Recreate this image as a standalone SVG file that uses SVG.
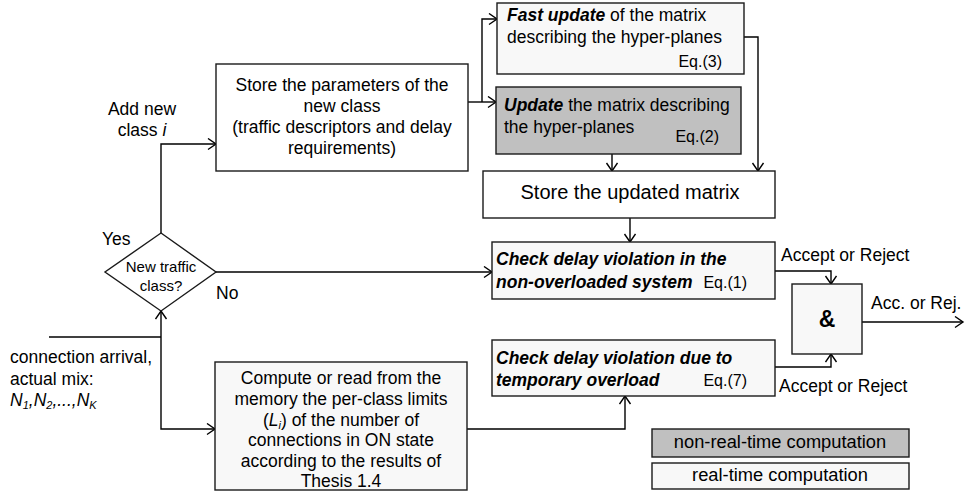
<svg xmlns="http://www.w3.org/2000/svg" width="965" height="504" viewBox="0 0 965 504">
<style>
text { font-family: "Liberation Sans", Arial, sans-serif; font-size: 17.5px; fill: #000; }
.c { text-anchor: middle; }
.e { text-anchor: end; font-size: 16px; }
.bi { font-weight: bold; font-style: italic; }
.it { font-style: italic; }
.box { stroke: #1a1a1a; stroke-width: 1.4; }
.w { fill: #ffffff; }
.l { fill: #f8f8f8; }
.g { fill: #c0c0c0; }
.con { fill: none; stroke: #000; stroke-width: 1.4; }
.lg { font-size: 18.3px; }
</style>
<defs>
<marker id="arr" markerUnits="userSpaceOnUse" markerWidth="12" markerHeight="14" refX="9" refY="6" orient="auto">
<path d="M1,0.5 L9,6 L1,11.5" fill="none" stroke="#000" stroke-width="1.4"/>
</marker>
</defs>
<rect width="965" height="504" fill="#ffffff"/>

<g id="connectors">
<polyline class="con" points="468,102 482,102 496,102" marker-end="url(#arr)"/>
<polyline class="con" points="482,102 482,19 497,19" marker-end="url(#arr)"/>
<polyline class="con" points="612,154 612,171" marker-end="url(#arr)"/>
<polyline class="con" points="744,37 758,37 758,171" marker-end="url(#arr)"/>
<polyline class="con" points="630,218 630,242" marker-end="url(#arr)"/>
<polyline class="con" points="216,272 492,272" marker-end="url(#arr)"/>
<polyline class="con" points="161,233 161,144 216,144" marker-end="url(#arr)"/>
<polyline class="con" points="49,337 161,337"/>
<polyline class="con" points="161,337 161,311" marker-end="url(#arr)"/>
<polyline class="con" points="161,337 161,429 215,429" marker-end="url(#arr)"/>
<polyline class="con" points="467,429 625,429 625,396" marker-end="url(#arr)"/>
<polyline class="con" points="775,271 831,271 831,284" marker-end="url(#arr)"/>
<polyline class="con" points="775,367 831,367 831,354" marker-end="url(#arr)"/>
<polyline class="con" points="862,322 963,322" marker-end="url(#arr)"/>
</g>

<g id="store-params">
<rect class="box w" x="216" y="64" width="252" height="107"/>
<text class="c" x="342" y="91">Store the parameters of the</text>
<text class="c" x="342" y="112">new class</text>
<text class="c" x="342" y="133">(traffic descriptors and delay</text>
<text class="c" x="342" y="154">requirements)</text>
</g>

<g id="fast-update">
<rect class="box l" x="497" y="3" width="247" height="71"/>
<text x="507" y="21"><tspan class="bi">Fast update</tspan> of the matrix</text>
<text x="507" y="43">describing the hyper-planes</text>
<text class="e" x="722" y="67">Eq.(3)</text>
</g>

<g id="update">
<rect class="box g" x="496" y="87" width="245" height="67"/>
<text x="504" y="111"><tspan class="bi">Update</tspan> the matrix describing</text>
<text x="504" y="133">the hyper-planes</text>
<text class="e" x="719" y="142">Eq.(2)</text>
</g>

<g id="store-matrix">
<rect class="box w" x="483" y="171" width="292" height="47"/>
<text class="c" x="630" y="199" style="font-size:20px">Store the updated matrix</text>
</g>

<g id="check1">
<rect class="box l" x="492" y="242" width="283" height="57"/>
<text class="bi" x="496" y="265">Check delay violation in the</text>
<text x="496" y="288"><tspan class="bi">non-overloaded system</tspan></text>
<text class="e" x="747" y="288">Eq.(1)</text>
</g>

<g id="check2">
<rect class="box l" x="492" y="340" width="283" height="56"/>
<text class="bi" x="496" y="364">Check delay violation due to</text>
<text class="bi" x="496" y="386">temporary overload</text>
<text class="e" x="747" y="386">Eq.(7)</text>
</g>

<g id="and-gate">
<rect class="box l" x="792" y="284" width="70" height="70"/>
<text class="c" x="827" y="327" style="font-size:23px;font-weight:bold">&amp;</text>
</g>

<g id="decision">
<polygon class="box w" points="161,233 216,272 161,311 105,272"/>
<text class="c" x="161" y="272" style="font-size:15px">New traffic</text>
<text class="c" x="161" y="291" style="font-size:15px">class?</text>
</g>

<g id="compute">
<rect class="box l" x="215" y="362" width="252" height="128"/>
<text class="c" x="341" y="384">Compute or read from the</text>
<text class="c" x="341" y="405">memory the per-class limits</text>
<text class="c" x="341" y="426">(<tspan class="it">L</tspan><tspan class="it" style="font-size:11px" dy="3">i</tspan><tspan dy="-3">) of the number of</tspan></text>
<text class="c" x="341" y="446">connections in ON state</text>
<text class="c" x="341" y="467">according to the results of</text>
<text class="c" x="341" y="487">Thesis 1.4</text>
</g>

<g id="labels">
<text x="102" y="245">Yes</text>
<text x="216" y="299">No</text>
<text class="c" x="142" y="115">Add new</text>
<text class="c" x="142" y="136">class <tspan class="it">i</tspan></text>
<text x="10" y="363">connection arrival,</text>
<text x="10" y="385">actual mix:</text>
<text x="10" y="406" class="it">N<tspan style="font-size:11px" dy="3">1</tspan><tspan dy="-3">,N</tspan><tspan style="font-size:11px" dy="3">2</tspan><tspan dy="-3">,...,N</tspan><tspan style="font-size:11px" dy="3">K</tspan></text>
<text x="781" y="261">Accept or Reject</text>
<text x="871" y="309">Acc. or Rej.</text>
<text x="779" y="392">Accept or Reject</text>
</g>

<g id="legend-nonrt">
<rect class="box g" x="652" y="429" width="257" height="28"/>
<text class="c lg" x="780" y="448">non-real-time computation</text>
</g>
<g id="legend-rt">
<rect class="box l" x="652" y="463" width="257" height="26"/>
<text class="c lg" x="780" y="481">real-time computation</text>
</g>
</svg>
